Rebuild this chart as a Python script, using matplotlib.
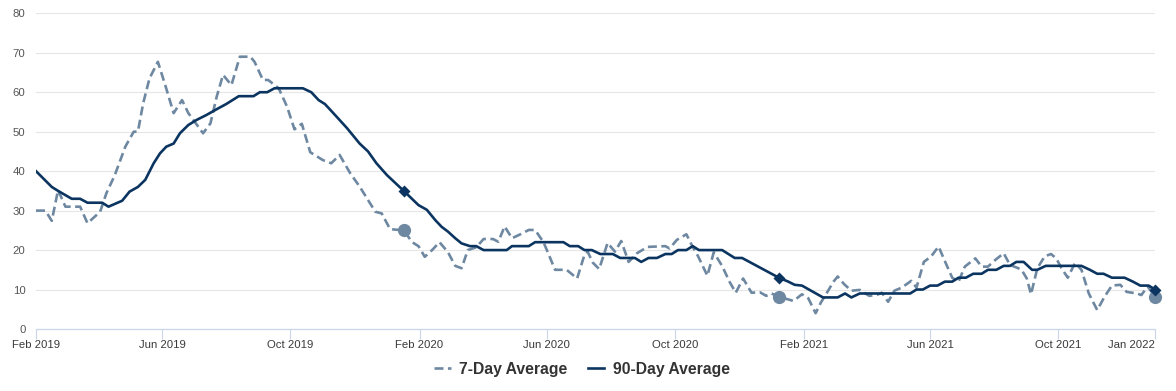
import matplotlib

matplotlib.use("Agg")
import matplotlib.pyplot as plt
import pandas as pd

plt.rcParams["font.family"] = ["Liberation Sans", "DejaVu Sans"]

START = pd.Timestamp("2019-02-01")

# 90-day average: days since START, value
avg90_day = [0, 15, 21, 34, 42, 49, 63, 69, 82, 89, 97, 104, 112, 118, 124, 131, 137,
             145, 153, 162, 172, 181, 193, 207, 213, 220, 227, 254, 262, 269, 275, 283,
             296, 308, 316, 324, 334, 350, 364, 372, 380, 386, 392, 399, 405, 413, 419,
             426, 448, 453, 469, 475, 502, 508, 516, 522, 529, 537, 549, 556, 570, 576,
             583, 591, 599, 605, 611, 619, 625, 631, 653, 659, 665, 672, 707, 716, 722,
             729, 749, 763, 770, 776, 784, 832, 838, 844, 851, 858, 865, 872, 878, 885,
             892, 900, 906, 914, 921, 927, 933, 940, 948, 953, 961, 995, 1003, 1010,
             1016, 1024, 1036, 1044, 1051, 1059, 1065]
avg90_val = [40, 36, 35, 33, 33, 32, 32, 31, 32.5, 34.8, 36, 37.8, 42, 44.5, 46.2, 47,
             49.6, 51.7, 53, 54.2, 55.7, 57, 59, 59, 60, 60, 61, 61, 60, 58, 57, 54.7,
             50.9, 47, 45, 42, 39, 35, 31.4, 30.2, 27.6, 25.9, 24.7, 23, 21.7, 21, 21,
             20, 20, 21, 21, 22, 22, 21, 21, 20, 20, 19, 19, 18, 18, 17,
             18, 18, 19, 19, 20, 20, 21, 20, 20, 19, 18, 18, 13, 12, 11.2,
             11, 8, 8, 9, 8, 9, 9, 10, 10, 11, 11, 12, 12, 13, 13,
             14, 14, 15, 15, 16, 16, 17, 17, 15, 15, 16, 16, 15, 14,
             14, 13, 13, 12, 11, 11, 10]

# 7-day average: days since START, value
avg7_day = [0, 9, 15, 21, 28, 42, 49, 61, 67, 75, 85, 93, 97, 102, 108, 116, 123, 131,
            139, 145, 159, 166, 172, 178, 186, 194, 204, 208, 216, 221, 231, 239, 246,
            253, 261, 273, 281, 289, 299, 308, 316, 323, 329, 337, 350, 358, 364, 370,
            377, 384, 392, 399, 405, 411, 419, 426, 435, 440, 446, 453, 461, 469, 475,
            483, 487, 494, 505, 515, 522, 525, 530, 536, 544, 551, 557, 564, 572, 582,
            599, 603, 610, 619, 625, 630, 639, 645, 653, 660, 666, 673, 681, 689, 695,
            700, 707, 721, 729, 735, 742, 747, 753, 759, 763, 769, 776, 784, 793, 800,
            805, 811, 817, 824, 833, 838, 845, 852, 859, 866, 872, 878, 884, 894, 900,
            906, 913, 921, 927, 934, 938, 943, 947, 953, 960, 966, 971, 976, 982, 989,
            995, 1002, 1010, 1017, 1024, 1032, 1038, 1048, 1052, 1058, 1065]
avg7_val = [30, 30, 27.4, 35.2, 31, 31, 26.8, 29.7, 34.4, 39, 46.2, 50, 50, 57.2, 63.5,
            67.7, 61.8, 54.7, 58, 54.7, 49.6, 52.1, 58.9, 64.4, 61.8, 69, 69, 67.7, 63.1,
            63.1, 61, 56.3, 50.6, 52, 44.8, 42.8, 42, 44.1, 39.5, 36.1, 32.7, 29.7, 29.3,
            25.3, 25, 22, 21, 18.3, 20, 22, 19.5, 16, 15.4, 20, 20.7, 22.8, 22.8, 22.1,
            26, 23, 24, 25.1, 25.1, 22, 19.5, 15, 15, 12.8, 18.8, 19.6, 16.8, 15.2, 21.8,
            19.6, 22.3, 17, 19.2, 20.8, 21, 20.4, 22.6, 24, 20.8, 18.5, 13.5, 19.4, 16,
            12, 9.2, 12.8, 9.2, 9.3, 8.4, 9, 8.2, 7.1, 8.8, 7.8, 4, 6.7, 9.3, 12, 13.3,
            11.4, 9.7, 9.9, 8.4, 8.6, 9.2, 6.9, 9.7, 10.5, 12.2, 10.5, 17, 18.4, 20.9,
            16.6, 13, 12, 15.8, 17.9, 15.8, 15.8, 17.5, 19.2, 16.2, 15.5, 15, 12.8, 8.8,
            15.4, 18.4, 19, 17.9, 15.4, 13, 16.8, 15, 9, 4.8, 8.2, 11, 11.2, 9.4, 9,
            8.6, 10.8, 8.2]

# highlighted points (same week each year)
marker_day = [350, 707, 1065]
marker_avg90 = [35, 13, 10]
marker_avg7 = [25, 8, 8]

tick_dates = ["2019-02-01", "2019-06-01", "2019-10-01", "2020-02-01", "2020-06-01",
              "2020-10-01", "2021-02-01", "2021-06-01", "2021-10-01", "2022-01-01"]
tick_labels = ["Feb 2019", "Jun 2019", "Oct 2019", "Feb 2020", "Jun 2020",
               "Oct 2020", "Feb 2021", "Jun 2021", "Oct 2021", "Jan 2022"]

colors = dict(
    avg7="#6e88a1",
    avg90="#0b3560",
    grid="#e6e6e6",
    axis="#ccd6eb",
    text="#333333",
)


def to_dates(days):
    return START + pd.to_timedelta(days, unit="D")


fig = plt.figure(figsize=(11.76, 3.91), dpi=100)
ax = fig.add_axes([36 / 1176, 62 / 391, 1119 / 1176, 315.7 / 391])

# lines
ax.plot(to_dates(avg7_day), avg7_val, color=colors["avg7"], lw=1.9,
        linestyle=(0, (3.4, 1.7)), label="7-Day Average", zorder=2)
ax.plot(to_dates(avg90_day), avg90_val, color=colors["avg90"], lw=1.9,
        label="90-Day Average", zorder=3, solid_joinstyle="round")

# markers (drawn over the plot edge, like the original)
ax.plot(to_dates(marker_day), marker_avg7, "o", ms=9.5, color=colors["avg7"],
        mec="none", zorder=4, clip_on=False)
ax.plot(to_dates(marker_day), marker_avg90, "D", ms=6.5, color=colors["avg90"],
        mec="none", zorder=5, clip_on=False)

# axes
ax.set_xlim(START, to_dates([1065])[0])
ax.set_ylim(0, 80)
ax.set_yticks(range(0, 81, 10))
ax.set_xticks(pd.to_datetime(tick_dates))
ax.set_xticklabels(tick_labels)
ax.grid(axis="y", color=colors["grid"], lw=0.8)
ax.set_axisbelow(True)

for side in ["top", "right", "left"]:
    ax.spines[side].set_visible(False)
ax.spines["bottom"].set_color(colors["axis"])
ax.spines["bottom"].set_linewidth(0.9)

ax.tick_params(axis="x", length=7.2, width=0.8, color=colors["axis"], pad=1,
               labelsize=8.2, labelcolor="#3a3a3a")
ax.tick_params(axis="y", length=0, pad=7.5, labelsize=8.2, labelcolor="#555555")
ax.get_xticklabels()[-1].set_ha("right")

fig.legend(loc="lower center", bbox_to_anchor=(0.495, 0.0), ncol=2, frameon=False,
           handlelength=1.05, handletextpad=0.55, columnspacing=1.3,
           prop=dict(size=11.3, weight="bold"), labelcolor=colors["text"])

fig.savefig("out.png", dpi=100)
